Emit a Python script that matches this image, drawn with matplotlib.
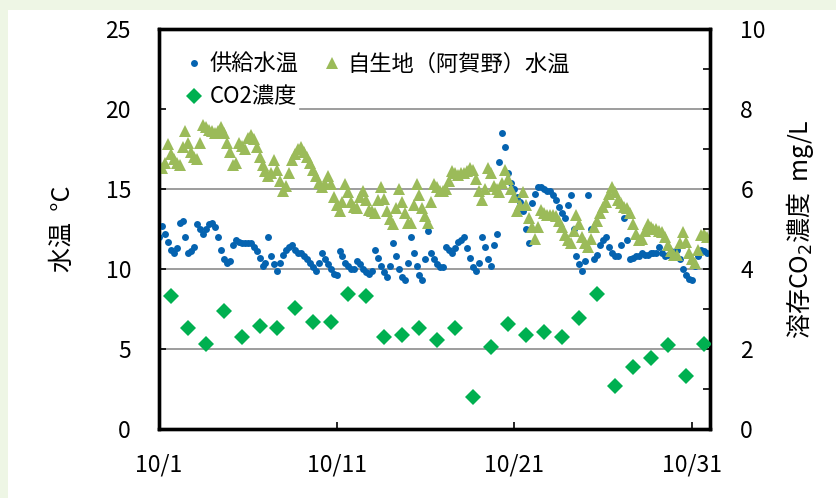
import numpy as np
import pandas as pd
import matplotlib
matplotlib.use('Agg')
import matplotlib.pyplot as plt
import matplotlib.dates as mdates
from matplotlib.patches import Rectangle

plt.rcParams['font.family'] = ['Noto Sans CJK JP', 'DejaVu Sans']

# 4時間おきの水温 (10/1 0:00 ～), 1行 = 1日 (0,4,8,12,16,20時)
supply_temp = [
    12.0, 12.7, 12.2, 11.7, 11.2, 11.0,
    11.3, 12.9, 13.0, 12.0, 11.0, 11.1,
    11.4, 12.8, 12.5, 12.2, 12.5, 12.8,
    12.9, 12.6, 12.0, 11.2, 10.6, 10.4,
    10.5, 11.5, 11.8, 11.7, 11.6, 11.6,
    11.6, 11.6, 11.4, 11.1, 10.7, 10.2,
    10.4, 12.0, 10.8, 10.3, 9.9, 10.4,
    10.9, 11.2, 11.4, 11.5, 11.2, 11.0,
    11.0, 10.8, 10.6, 10.4, 10.1, 9.9,
    10.4, 11.0, 10.6, 10.3, 10.0, 9.7,
    9.6, 11.1, 10.8, 10.4, 10.2, 10.0,
    10.0, 10.5, 10.3, 10.0, 9.8, 9.7,
    9.9, 11.2, 10.7, 10.2, 9.8, 9.5,
    10.2, 11.6, 10.8, 10.0, 9.5, 9.3,
    10.4, 12.0, 11.0, 10.2, 9.6, 9.3,
    10.6, 12.4, 11.0, 10.6, 10.3, 10.1,
    10.1, 11.4, 11.2, 11.0, 11.3, 11.7,
    11.8, 12.0, 11.3, 10.7, 10.1, 9.9,
    10.4, 12.0, 11.4, 10.6, 10.2, 11.5,
    12.2, 16.7, 18.5, 17.6, 16.0, 15.4,
    15.0, 14.5, 14.2, 13.6, 12.5, 11.6,
    14.1, 14.7, 15.1, 15.1, 15.0, 14.9,
    14.9, 14.6, 14.3, 13.9, 13.5, 13.2,
    14.0, 14.6, 12.5, 10.8, 10.3, 9.9,
    10.5, 14.6, 12.5, 10.6, 10.9, 11.5,
    11.8, 12.0, 11.4, 11.0, 10.8, 10.8,
    11.5, 13.2, 11.8, 10.6, 10.7, 10.8,
    10.8, 11.0, 10.9, 10.9, 11.0, 11.0,
    11.0, 11.4, 11.0, 10.8, 10.9, 11.1,
    11.0, 11.2, 10.6, 10.0, 9.6, 9.4,
    9.3, 10.2, 10.8, 11.2, 11.1, 11.0,
]

agano_temp = [
    16.4, 16.3, 16.6, 17.8, 17.2, 16.9,
    16.6, 16.5, 17.6, 18.6, 17.9, 17.3,
    17.0, 16.9, 17.9, 19.0, 18.9, 18.7,
    18.6, 18.5, 18.6, 18.9, 18.5, 17.9,
    17.3, 16.5, 16.6, 17.9, 17.7, 17.5,
    18.2, 18.4, 18.1, 17.6, 17.0, 16.5,
    16.1, 15.8, 16.0, 16.8, 16.2, 15.5,
    14.9, 15.2, 16.0, 16.8, 17.2, 17.5,
    17.6, 17.3, 17.0, 16.6, 16.2, 15.8,
    15.4, 15.1, 15.3, 15.8, 15.3, 14.5,
    14.0, 13.6, 14.2, 15.3, 14.8, 14.2,
    13.9, 13.8, 14.5, 14.9, 14.3, 13.7,
    13.6, 13.5, 14.3, 15.1, 14.4, 13.6,
    13.1, 12.8, 13.8, 15.0, 14.2, 13.5,
    12.9, 12.9, 14.0, 15.3, 14.6, 13.8,
    13.3, 12.9, 14.2, 15.3, 15.1, 14.9,
    14.9, 15.0, 15.5, 16.1, 16.0, 15.9,
    16.0, 16.0, 16.1, 16.3, 16.2, 15.6,
    14.9, 14.3, 15.0, 16.3, 16.0, 15.2,
    15.0, 14.8, 15.4, 16.2, 15.6, 15.0,
    14.5, 13.6, 14.0, 14.8, 14.0, 13.2,
    12.6, 11.9, 12.6, 13.7, 13.5, 13.4,
    13.4, 13.4, 13.3, 13.0, 12.6, 12.1,
    11.8, 11.6, 12.4, 13.4, 12.8, 12.0,
    11.6, 11.4, 11.9, 12.6, 13.0, 13.5,
    13.9, 14.2, 14.7, 15.1, 14.8, 14.3,
    14.1, 13.9, 13.8, 13.5, 12.8, 12.2,
    11.8, 11.9, 12.4, 12.8, 12.6, 12.5,
    12.5, 12.4, 12.3, 12.0, 11.5, 11.1,
    10.9, 10.9, 11.6, 12.3, 11.7, 11.0,
    10.6, 10.4, 11.2, 12.1, 12.2, 12.0,
]

# CO2濃度 mg/L (毎日16時頃)
co2 = [3.33, 2.52, 2.13, 2.96, 2.29, 2.58, 2.52, 3.03, 2.68, 2.68,
       3.37, 3.33, 2.29, 2.36, 2.52, 2.23, 2.52, 0.80, 2.05, 2.63,
       2.36, 2.42, 2.29, 2.77, 3.37, 1.08, 1.54, 1.77, 2.10, 1.33, 2.13]

t_temp = pd.date_range('2019-10-01 00:00', periods=len(supply_temp), freq='4h')
t_co2 = pd.date_range('2019-10-01 16:00', periods=len(co2), freq='D')
tick_days = pd.to_datetime(['2019-10-01', '2019-10-11', '2019-10-21', '2019-10-31'])
tick_labels = ['10/1', '10/11', '10/21', '10/31']

fig = plt.figure(figsize=(8.36, 4.98), dpi=100, facecolor='#EEF6E5')
bg = Rectangle((8 / 836, 0), 1, 1 - 10 / 498, transform=fig.transFigure,
               facecolor='white', edgecolor='none', zorder=-10)
fig.add_artist(bg)

ax = fig.add_axes([0.190, 0.1386, 0.659, 0.8032])
ax2 = ax.twinx()

blue = '#0563B0'
olive = '#9BBB59'
green = '#00B050'

l1, = ax.plot(t_temp, supply_temp, 'o', color=blue, ms=5, mew=0, label='供給水温', zorder=3)
l2, = ax.plot(t_temp, agano_temp, '^', color=olive, ms=8, mew=0, label='自生地（阿賀野）水温', zorder=4)
l3, = ax2.plot(t_co2, co2, 'D', color=green, ms=8, mew=0, label='CO2濃度', zorder=5)

ax.set_xlim(pd.Timestamp('2019-10-01'), pd.Timestamp('2019-11-01'))
ax.set_ylim(0, 25)
ax2.set_ylim(0, 10)

ax.set_yticks([0, 5, 10, 15, 20, 25])
ax2.set_yticks([0, 2, 4, 6, 8, 10])
ax2.set_yticks([1, 3, 5, 7, 9], minor=True)
ax.set_xticks(tick_days)
ax.set_xticklabels(tick_labels)

# 横の目盛線 (20の線は凡例の下で切れる)
for y in [5, 10, 15]:
    ax.axhline(y, color='#8C8C8C', lw=1.2, zorder=1)
ax.axhline(20, xmin=0.256, color='#8C8C8C', lw=1.2, zorder=1)

for a in (ax, ax2):
    for s in a.spines.values():
        s.set_linewidth(2.4)
        s.set_color('black')
ax.tick_params(axis='both', direction='in', length=5, width=1.2, labelsize=16.5)
ax.tick_params(axis='y', pad=20)
ax.tick_params(axis='x', pad=18)
ax2.tick_params(axis='y', which='major', direction='in', length=5, width=1.2, labelsize=16.5, pad=22)
ax2.tick_params(axis='y', which='minor', direction='in', length=5, width=1.2)

ax.set_ylabel('水温  °C', fontsize=18)
ax.yaxis.set_label_coords(-0.15, 0.5)
ax2.set_ylabel('溶存CO$_2$濃度  mg/L', fontsize=18, rotation=90)
ax2.yaxis.set_label_coords(1.135, 0.5)

leg = ax2.legend([l1, l3, l2], ['供給水温', 'CO2濃度', '自生地（阿賀野）水温'],
                 ncol=2, loc='upper left', bbox_to_anchor=(0.02, 0.975),
                 frameon=False, fontsize=16, handletextpad=0.2, handlelength=1.0,
                 columnspacing=1.0, labelspacing=0.45, borderaxespad=0.2)

fig.savefig('out.png', dpi=100, facecolor=fig.get_facecolor())
